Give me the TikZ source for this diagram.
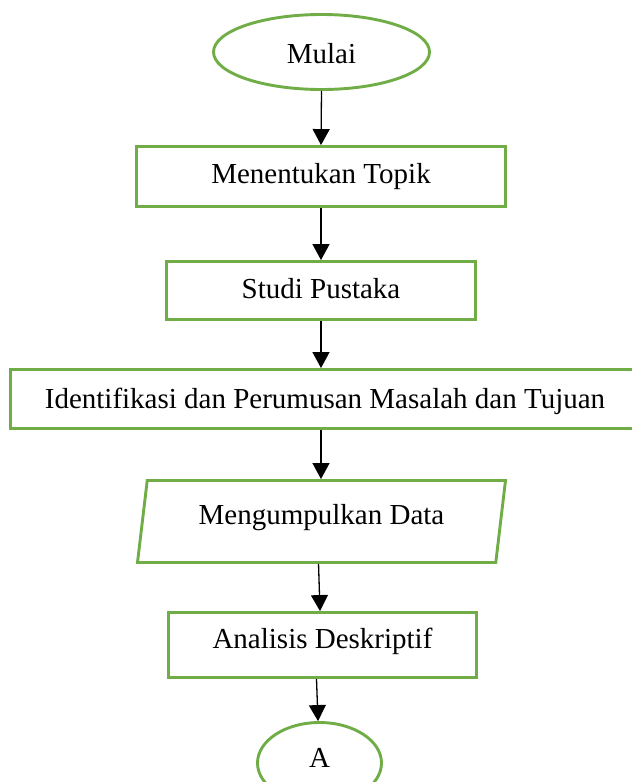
\documentclass[tikz,border=0pt]{standalone}
\usepackage{fontspec}
\setmainfont{Liberation Serif}
\usetikzlibrary{shapes.geometric,arrows.meta}
\definecolor{flowgreen}{HTML}{70AD47}
\begin{document}
\begin{tikzpicture}[x=1pt,y=-1pt,
  every node/.style={font=\fontsize{29}{34}\selectfont, text height=22pt, inner sep=0pt},
  shapebase/.style={draw=flowgreen, line width=2.9pt, fill=white},
  procbox/.style={shapebase, rectangle},
  termshape/.style={shapebase, ellipse},
  iobox/.style={shapebase, trapezium, trapezium left angle=76, trapezium right angle=104, trapezium stretches body},
  flowarrow/.style={-{Triangle[width=17pt,length=16pt]}, line width=1.3pt, black}]
\useasboundingbox (0,0) rectangle (632,782);

\node[termshape, minimum width=216pt, minimum height=75pt, text depth=0pt] (mulai) at (321.5,52) {Mulai};
\node[procbox, minimum width=369pt, minimum height=60pt, text depth=9pt] (topik) at (321,176.5) {Menentukan Topik};
\node[procbox, minimum width=309pt, minimum height=58pt, text depth=7pt] (studi) at (321,290.5) {Studi Pustaka};
\node[procbox, minimum width=629pt, minimum height=59pt, text depth=4pt] (ident) at (325,399) {Identifikasi dan Perumusan Masalah dan Tujuan};
\node[iobox, minimum width=368pt, minimum height=82pt, text depth=17pt] (data) at (321.5,521.5) {Mengumpulkan Data};
\node[procbox, minimum width=308pt, minimum height=65pt, text depth=15pt] (analisis) at (322.5,645) {Analisis Deskriptif};
\node[termshape, minimum width=124pt, minimum height=81pt, text depth=14pt] (a) at (319.5,763) {A};

\draw[flowarrow] (mulai.south) -- (topik.north);
\draw[flowarrow] (topik.south) -- (studi.north);
\draw[flowarrow] (studi.south) -- (studi.south |- ident.north);
\draw[flowarrow] ([xshift=-4pt]ident.south) -- ([xshift=-4pt]ident.south |- data.north);
\draw[flowarrow] ([xshift=-3pt]data.south) -- ([xshift=-2.5pt]analisis.north);
\draw[flowarrow] ([xshift=-6pt]analisis.south) -- ([xshift=-1.5pt]a.north);
\end{tikzpicture}
\end{document}
